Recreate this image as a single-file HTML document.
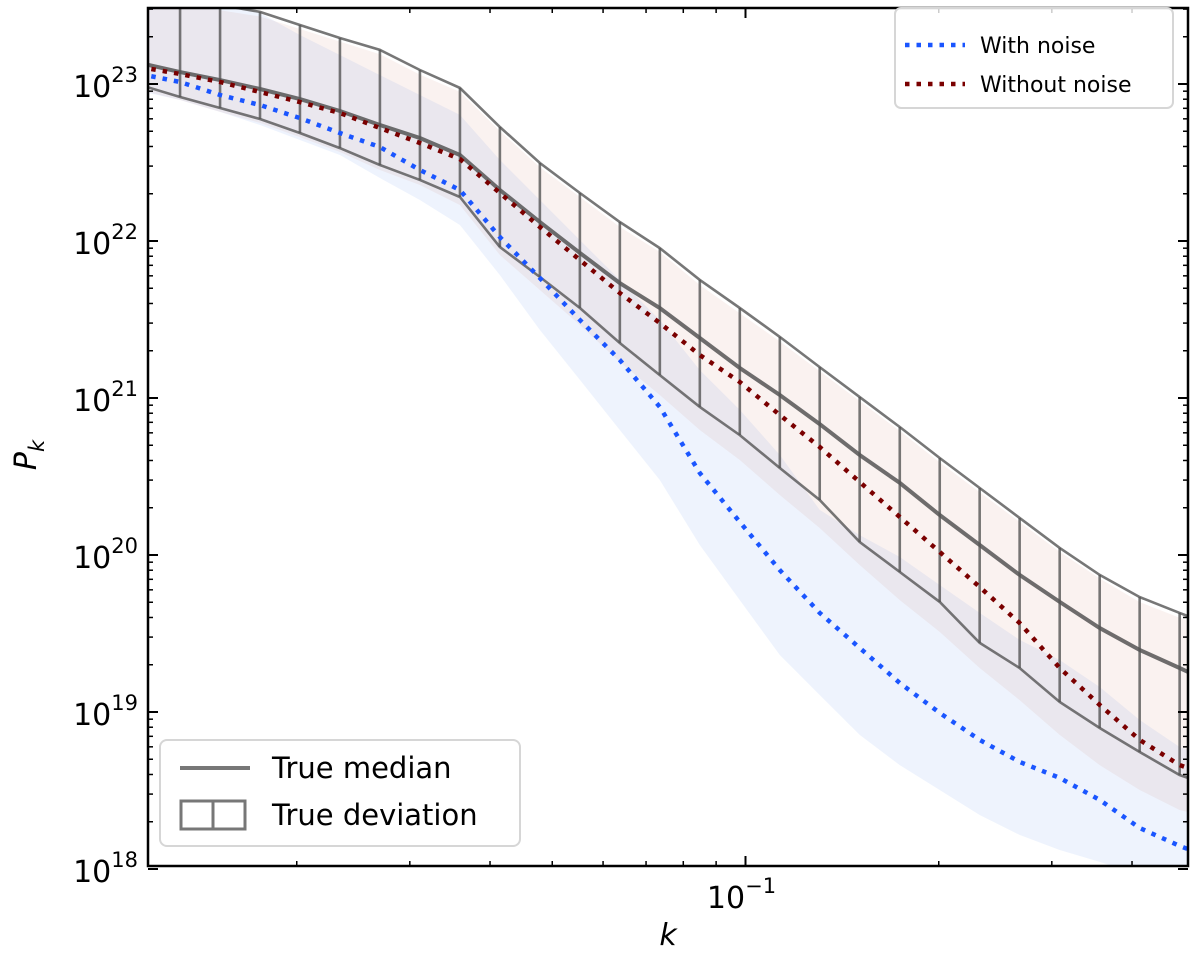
<!DOCTYPE html>
<html><head><meta charset="utf-8">
<style>
html,body{margin:0;padding:0;background:#fff;}
svg{display:block;font-family:"DejaVu Sans","Liberation Sans",sans-serif;}
</style></head>
<body>
<svg id="chart" width="1200" height="960" viewBox="0 0 1200 960">
  <defs><clipPath id="plotclip"><rect x="148" y="8" width="1040" height="858"/></clipPath></defs>
  <rect x="0" y="0" width="1200" height="960" fill="#fff"/>
  <g id="bands" clip-path="url(#plotclip)"></g>
  <g id="lines" clip-path="url(#plotclip)"></g>
  <g id="axes"></g>
  <g id="legend1">
    <rect x="895" y="8" width="278" height="100" rx="6" fill="#fff" fill-opacity="0.8" stroke="#d6d6d6" stroke-width="2"/>
    <line x1="905" y1="45" x2="965" y2="45" stroke="#1a55ff" stroke-width="4.5" stroke-dasharray="4.5 7"/>
    <text x="980" y="53" font-size="22" fill="#000">With noise</text>
    <line x1="905" y1="84" x2="965" y2="84" stroke="#7a0000" stroke-width="4.5" stroke-dasharray="4.5 7"/>
    <text x="980" y="92" font-size="22" fill="#000">Without noise</text>
  </g>
  <g id="legend2">
    <rect x="160" y="740" width="360" height="106" rx="7" fill="#fff" fill-opacity="0.8" stroke="#d6d6d6" stroke-width="2"/>
    <line x1="180" y1="768" x2="250" y2="768" stroke="#777" stroke-width="4"/>
    <text x="272" y="778" font-size="29" fill="#000">True median</text>
    <rect x="181" y="801" width="64" height="28" fill="none" stroke="#777" stroke-width="3"/>
    <line x1="213" y1="801" x2="213" y2="829" stroke="#777" stroke-width="3"/>
    <text x="272" y="825" font-size="29" fill="#000">True deviation</text>
  </g>
</svg>
<script>
// k values (bin wavenumbers)
const kValues = [0.01140,0.01316,0.01519,0.01753,0.02023,0.02335,0.02695,0.03111,0.03591,0.04144,0.04783,0.05521,0.06372,0.07355,0.08489,0.09798,0.1131,0.1305,0.1506,0.1739,0.2007,0.2316,0.2673,0.3086,0.3562,0.4111,0.4745,0.489];
// log10 P_k series
const trueUpperLog = [23.567,23.535,23.503,23.459,23.376,23.293,23.217,23.089,22.975,22.726,22.497,22.306,22.121,21.955,21.752,21.573,21.389,21.197,21.006,20.815,20.618,20.427,20.236,20.045,19.873,19.732,19.631,19.611];
const trueMedianLog = [23.134,23.076,23.025,22.968,22.904,22.828,22.739,22.656,22.548,22.325,22.121,21.924,21.732,21.573,21.382,21.191,21.019,20.834,20.637,20.459,20.255,20.064,19.873,19.701,19.535,19.395,19.280,19.255];
const trueLowerLog = [22.994,22.917,22.847,22.777,22.688,22.592,22.484,22.389,22.280,21.962,21.771,21.573,21.350,21.146,20.943,20.764,20.554,20.350,20.083,19.892,19.701,19.440,19.280,19.064,18.898,18.745,18.599,18.580];
const withoutNoiseLog = [23.108,23.064,23.013,22.949,22.885,22.815,22.720,22.624,22.522,22.306,22.089,21.879,21.669,21.478,21.274,21.102,20.892,20.688,20.465,20.242,20.019,19.796,19.567,19.280,19.045,18.822,18.662,18.643];
const withNoiseLog = [23.064,23.013,22.930,22.866,22.783,22.688,22.599,22.452,22.325,22.025,21.764,21.497,21.242,20.943,20.522,20.210,19.904,19.631,19.408,19.185,18.994,18.822,18.682,18.580,18.440,18.261,18.147,18.127];
const cleanHiLog = [23.54,23.51,23.47,23.43,23.35,23.27,23.19,23.06,22.95,22.70,22.47,22.28,22.09,21.93,21.72,21.54,21.36,21.17,20.98,20.79,20.59,20.40,20.21,20.02,19.85,19.70,19.60,19.58];
const cleanLoLog = [22.962,22.898,22.822,22.752,22.662,22.567,22.452,22.357,22.229,21.911,21.688,21.465,21.229,21.019,20.796,20.605,20.382,20.172,19.936,19.713,19.510,19.280,19.076,18.854,18.662,18.503,18.376,18.363];
const noiseHiLog = [23.567,23.567,23.535,23.452,23.312,23.185,23.057,22.930,22.803,22.516,22.261,22.006,21.752,21.497,21.178,20.924,20.637,20.287,20.127,19.987,19.809,19.631,19.459,19.331,19.159,18.949,18.777,18.758];
const noiseLoLog = [22.955,22.898,22.822,22.739,22.643,22.548,22.401,22.261,22.102,21.783,21.433,21.115,20.796,20.478,20.064,19.713,19.363,19.108,18.854,18.662,18.503,18.344,18.217,18.121,18.045,17.962,17.930,17.930];
const yTickExps = [18,19,20,21,22,23];
const xMajorTicks = [0.1];
const xMinorTicks = [0.02,0.03,0.04,0.05,0.06,0.07,0.08,0.09,0.2,0.3,0.4];

const NS='http://www.w3.org/2000/svg';
const L=148,R=1188,T=8,B=866;
function xs(k){return 745.5+642*Math.log10(k/0.1);}
function ys(lg){return 241-157*(lg-22);}
function mk(tag,attrs,parent){const e=document.createElementNS(NS,tag);for(const a in attrs)e.setAttribute(a,attrs[a]);parent.appendChild(e);return e;}
function pts(arr){return arr.map((v,i)=>xs(kValues[i]).toFixed(1)+','+ys(v).toFixed(1));}
function band(hi,lo){return 'M'+pts(hi).join('L')+'L'+pts(lo).reverse().join('L')+'Z';}

const bands=document.getElementById('bands');
let b1=mk('path',{d:band(noiseHiLog,noiseLoLog),fill:'rgb(90,140,240)','fill-opacity':'0.1'},bands);


let b2=mk('path',{d:band(cleanHiLog,cleanLoLog),fill:'rgb(200,110,90)','fill-opacity':'0.09'},bands);



const lines=document.getElementById('lines');
for(let i=1;i<kValues.length-1;i++){
  const x=xs(kValues[i]);
  const v=mk('line',{x1:x,x2:x,y1:ys(trueUpperLog[i]),y2:ys(trueLowerLog[i]),stroke:'#555','stroke-opacity':'0.8','stroke-width':'2.6'},lines);
  
  
}
let up=mk('polyline',{points:pts(trueUpperLog).join(' '),fill:'none',stroke:'#555','stroke-opacity':'0.8','stroke-width':'2.6'},lines);


let lo=mk('polyline',{points:pts(trueLowerLog).join(' '),fill:'none',stroke:'#555','stroke-opacity':'0.8','stroke-width':'2.6'},lines);


let md=mk('polyline',{points:pts(trueMedianLog).join(' '),fill:'none',stroke:'#555','stroke-opacity':'0.85','stroke-width':'4'},lines);


let rn=mk('polyline',{points:pts(withoutNoiseLog).join(' '),fill:'none',stroke:'#7a0000','stroke-width':'4.5','stroke-dasharray':'4.5 7'},lines);


let bn=mk('polyline',{points:pts(withNoiseLog).join(' '),fill:'none',stroke:'#1a55ff','stroke-width':'4.5','stroke-dasharray':'4.5 7'},lines);



const axes=document.getElementById('axes');
for(const e of yTickExps){
  const y=ys(e);
  for(const x0 of [L,R]){
    const dir=x0===L?1:-1;
    const t=mk('line',{x1:x0,x2:x0+dir*10,y1:y,y2:y,stroke:'#000','stroke-width':'2'},axes);
    
    
  }
  const lab=mk('text',{x:138,y:y+13,'font-size':'30','text-anchor':'end',fill:'#000'},axes);
  
  
  lab.innerHTML='10<tspan dy="-15" font-size="21">'+e+'</tspan>';
  for(let m=2;m<=9;m++){
    const ym=ys(e+Math.log10(m));
    if(ym<T||ym>B)continue;
    for(const x0 of [L,R]){
      const dir=x0===L?1:-1;
      const t=mk('line',{x1:x0,x2:x0+dir*5,y1:ym,y2:ym,stroke:'#000','stroke-width':'1.5'},axes);
      
      
    }
  }
}
for(const k of xMajorTicks){
  const x=xs(k);
  for(const y0 of [B,T]){
    const dir=y0===B?-1:1;
    const t=mk('line',{x1:x,x2:x,y1:y0,y2:y0+dir*10,stroke:'#000','stroke-width':'2'},axes);
    
    
  }
  const lab=mk('text',{x:x-4,y:908,'font-size':'30','text-anchor':'middle',fill:'#000'},axes);
  
  
  lab.innerHTML='10<tspan dy="-15" font-size="21">−1</tspan>';
}
for(const k of xMinorTicks){
  const x=xs(k);
  for(const y0 of [B,T]){
    const dir=y0===B?-1:1;
    const t=mk('line',{x1:x,x2:x,y1:y0,y2:y0+dir*5,stroke:'#000','stroke-width':'1.5'},axes);
    
    
  }
}
let fr=mk('rect',{x:L,y:T,width:R-L,height:B-T,fill:'none',stroke:'#000','stroke-width':'2.5'},axes);


let xl=mk('text',{x:668,y:945,'font-size':'30','font-style':'italic','text-anchor':'middle',fill:'#000'},axes);


xl.textContent='k';
let yl=mk('text',{x:0,y:0,'font-size':'30','font-style':'italic','text-anchor':'middle',fill:'#000',transform:'translate(36,455) rotate(-90)'},axes);


yl.innerHTML='P<tspan dy="8" font-size="21">k</tspan>';
</script>
</body></html>
